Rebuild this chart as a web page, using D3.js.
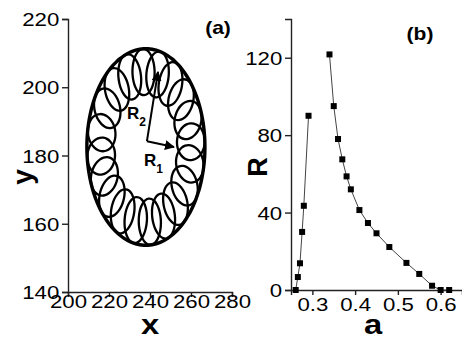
<!DOCTYPE html>
<html>
<head>
<meta charset="utf-8">
<script src="https://cdn.jsdelivr.net/npm/d3@7"></script>
<style>
  body { margin: 0; background: #fff; }
  svg { display: block; }
  .axis path, .axis line { stroke: #222; stroke-width: 1.4; }
  .axis text { font-family: "Liberation Sans", Arial, sans-serif; font-size: 19px; fill: #000; }
</style>
</head>
<body>
<div id="chart"></div>
<script>
// panel (a): loop trajectory (data units)
const ringCenter = [238, 182.5];
const ringRadius = 22;
const loopRadial = 6.8;       // loop half-size along the ring radius
const loopTangential = 5.4;   // loop half-size along the ring
const loopAngles = [93, 75, 57, 39, 21, 4, -13, -31, -49, -67, -85, -103, -121, -139, -157, -173, 169, 149, 130, 111];
const arrowOrigin = [238.5, 184.2];
const arrowR2 = [243.9, 204.5];
const arrowR1 = [251.7, 182.5];
const xTicksA = [200, 220, 240, 260, 280];
const yTicksA = [140, 160, 180, 200, 220];

// panel (b): R versus a
const aLeft = [0.261, 0.266, 0.271, 0.276, 0.280, 0.291];
const rLeft = [0, 6.7, 13.8, 30, 43.5, 90];
const aRight = [0.34, 0.35, 0.36, 0.37, 0.38, 0.39, 0.41, 0.43, 0.45, 0.48, 0.52, 0.55, 0.58, 0.60, 0.62];
const rRight = [121.7, 95, 78, 67.5, 58.7, 52, 41.3, 34.6, 29.3, 22.2, 14, 8.3, 2.2, 0, 0];
const xTicksB = [0.3, 0.4, 0.5, 0.6];
const yTicksB = [0, 40, 80, 120];

const W = 462, H = 341;
const STRETCH = 1.17; // the original glyphs are wider than Arial

const svg = d3.select('#chart').append('svg')
  .attr('width', W)
  .attr('height', H)
  .attr('font-family', '"Liberation Sans", Arial, sans-serif');

svg.append('defs').append('marker')
  .attr('id', 'arrow')
  .attr('viewBox', '0 0 10 10')
  .attr('refX', 9).attr('refY', 5)
  .attr('markerWidth', 5).attr('markerHeight', 5)
  .attr('orient', 'auto')
  .append('path')
  .attr('d', 'M0,0L10,5L0,10Z')
  .attr('fill', '#000');

function stretchText(sel) {
  sel.attr('transform', `scale(${STRETCH},1)`);
}

function addAxes(x, y, xMajor, xMinor, yMajor, yMinor, xFmt, xLabelDy) {
  const gx = svg.append('g').attr('class', 'axis')
    .attr('transform', `translate(0,${y.range()[0]})`);
  gx.call(d3.axisBottom(x).tickValues(xMinor).tickSize(3).tickFormat(''));
  gx.call(d3.axisBottom(x).tickValues(xMajor).tickSize(5).tickFormat(xFmt));
  gx.selectAll('text').attr('y', xLabelDy).attr('dy', 0).call(stretchText);

  const gy = svg.append('g').attr('class', 'axis')
    .attr('transform', `translate(${x.range()[0]},0)`);
  gy.call(d3.axisLeft(y).tickValues(yMinor).tickSize(3).tickFormat(''));
  gy.call(d3.axisLeft(y).tickValues(yMajor).tickSize(6).tickPadding(1.5));
  gy.selectAll('text').attr('dy', '0.35em').call(stretchText);
  svg.selectAll('.axis .domain').attr('stroke-width', 1.5);
}

// ---------- panel (a)
const xA = d3.scaleLinear().domain([200, 280]).range([68, 232]);
const yA = d3.scaleLinear().domain([140, 220]).range([292, 19]);

addAxes(xA, yA, xTicksA, d3.range(210, 280, 20), yTicksA, d3.range(150, 220, 20), d3.format('d'), 16);

const loopLine = d3.line().curve(d3.curveCardinalClosed);
const loops = svg.append('g');

// outer edge of the trajectory
const outer = d3.range(0, 360, 4).map(t => {
  const r = ringRadius + loopRadial;
  return [xA(ringCenter[0] + r * Math.cos(t * Math.PI / 180)), yA(ringCenter[1] + r * Math.sin(t * Math.PI / 180))];
});
loops.append('path')
  .attr('d', loopLine(outer))
  .attr('fill', 'none')
  .attr('stroke', '#000')
  .attr('stroke-width', 3.4);

loops.selectAll('path.loop')
  .data(loopAngles)
  .join('path')
  .attr('class', 'loop')
  .attr('fill', 'none')
  .attr('stroke', '#000')
  .attr('stroke-width', 2.3)
  .attr('d', deg => {
    const th = deg * Math.PI / 180;
    const ur = [Math.cos(th), Math.sin(th)];
    const ut = [-Math.sin(th), Math.cos(th)];
    const c = [ringCenter[0] + ringRadius * ur[0], ringCenter[1] + ringRadius * ur[1]];
    const pts = d3.range(0, 360, 15).map(t => {
      const s = t * Math.PI / 180;
      const px = c[0] + loopRadial * Math.cos(s) * ur[0] + loopTangential * Math.sin(s) * ut[0];
      const py = c[1] + loopRadial * Math.cos(s) * ur[1] + loopTangential * Math.sin(s) * ut[1];
      return [xA(px), yA(py)];
    });
    return loopLine(pts);
  });

// R1 / R2 arrows
[arrowR2, arrowR1].forEach(tip => {
  svg.append('line')
    .attr('x1', xA(arrowOrigin[0])).attr('y1', yA(arrowOrigin[1]))
    .attr('x2', xA(tip[0])).attr('y2', yA(tip[1]))
    .attr('stroke', '#000')
    .attr('stroke-width', 2)
    .attr('marker-end', 'url(#arrow)');
});

function rLabel(x, y, sub) {
  const t = svg.append('text')
    .attr('x', x).attr('y', y)
    .attr('font-size', 17)
    .attr('font-weight', 'bold');
  t.append('tspan').text('R');
  t.append('tspan').attr('font-size', 12).attr('dy', 7).text(sub);
}
rLabel(127, 119, '2');
rLabel(144, 166, '1');

svg.append('text')
  .attr('transform', `translate(218,34) scale(${STRETCH},1)`)
  .attr('text-anchor', 'middle')
  .attr('font-size', 18)
  .attr('font-weight', 'bold')
  .text('(a)');

svg.append('text')
  .attr('transform', `translate(150,334) scale(${STRETCH},1)`)
  .attr('text-anchor', 'middle')
  .attr('font-size', 28)
  .attr('font-weight', 'bold')
  .text('x');

svg.append('text')
  .attr('transform', 'translate(32,177) rotate(-90)')
  .attr('text-anchor', 'middle')
  .attr('font-size', 28)
  .attr('font-weight', 'bold')
  .text('y');

// ---------- panel (b)
const xB = d3.scaleLinear().domain([0.25, 0.65]).range([291, 462]);
const yB = d3.scaleLinear().domain([0, 140]).range([290, 19]);

addAxes(xB, yB, xTicksB, [0.35, 0.45, 0.55], yTicksB, [20, 60, 100, 140], d3.format('.1f'), 21);

const seriesLine = d3.line().x(d => xB(d[0])).y(d => yB(d[1]));
const branches = [
  d3.zip(aLeft, rLeft),
  d3.zip(aRight, rRight)
];

svg.append('g').selectAll('path')
  .data(branches)
  .join('path')
  .attr('d', seriesLine)
  .attr('fill', 'none')
  .attr('stroke', '#444')
  .attr('stroke-width', 1);

svg.append('g').selectAll('rect')
  .data(branches.flat())
  .join('rect')
  .attr('x', d => xB(d[0]) - 3)
  .attr('y', d => yB(d[1]) - 3)
  .attr('width', 6)
  .attr('height', 6)
  .attr('fill', '#000');

svg.append('text')
  .attr('transform', `translate(420,40) scale(${STRETCH},1)`)
  .attr('text-anchor', 'middle')
  .attr('font-size', 18)
  .attr('font-weight', 'bold')
  .text('(b)');

svg.append('text')
  .attr('transform', `translate(373,334) scale(${STRETCH},1)`)
  .attr('text-anchor', 'middle')
  .attr('font-size', 28)
  .attr('font-weight', 'bold')
  .text('a');

svg.append('text')
  .attr('transform', 'translate(267,167) rotate(-90)')
  .attr('text-anchor', 'middle')
  .attr('font-size', 27)
  .attr('font-weight', 'bold')
  .text('R');
</script>
</body>
</html>
